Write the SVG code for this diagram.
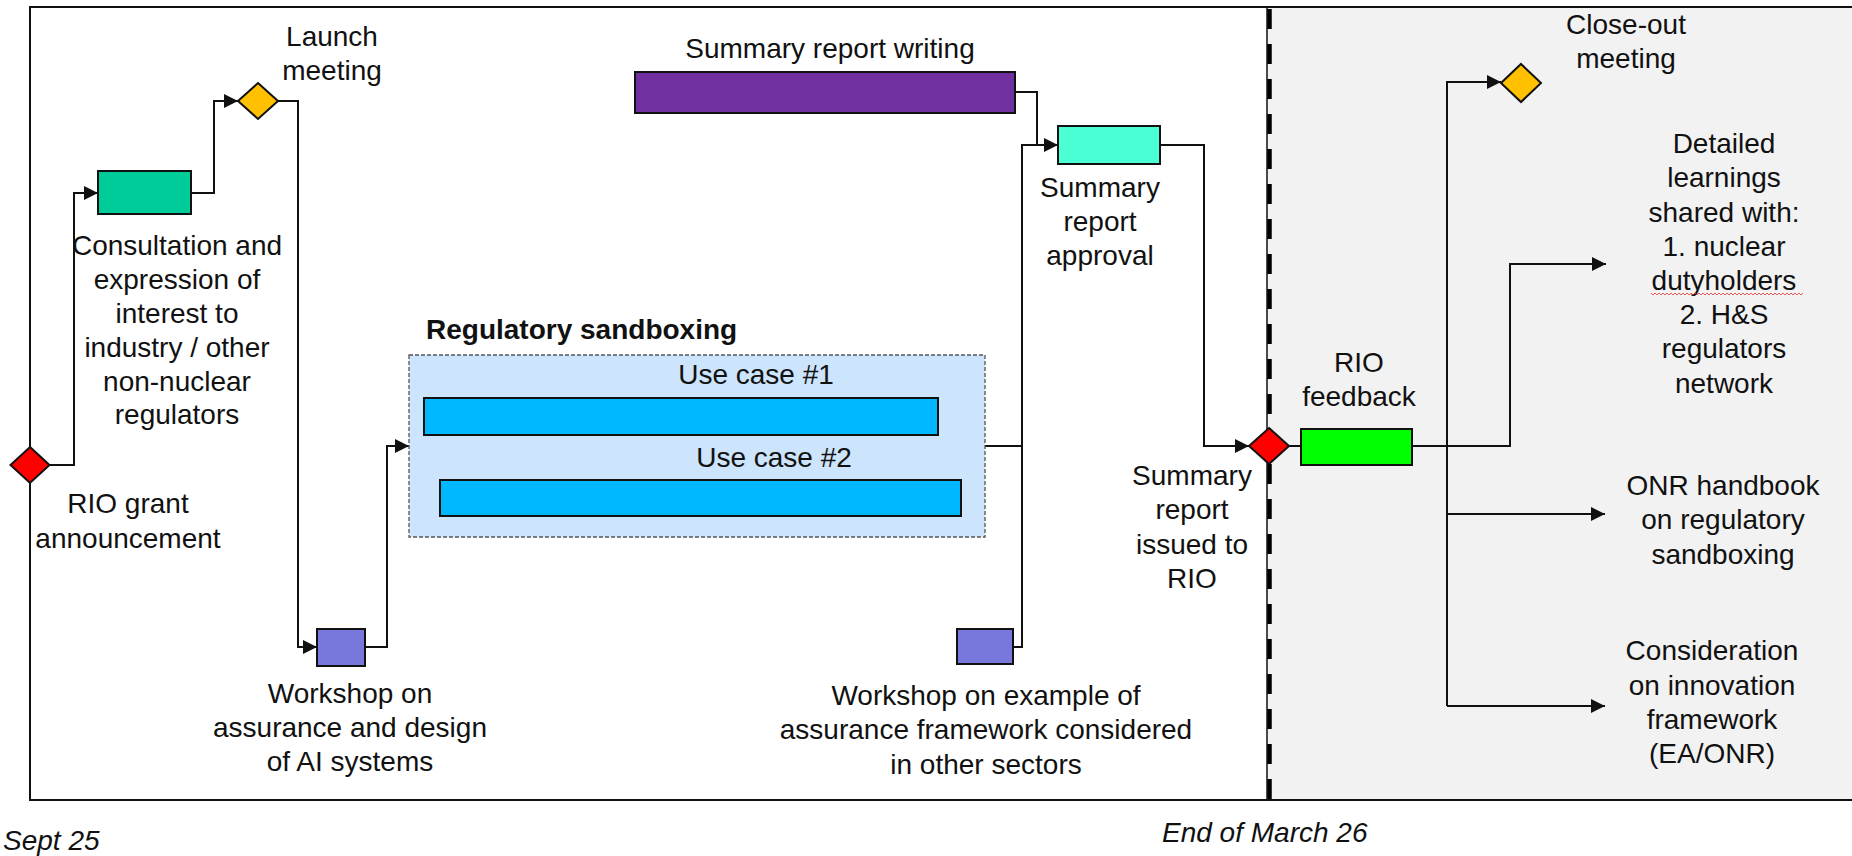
<svg xmlns="http://www.w3.org/2000/svg" width="1852" height="856" viewBox="0 0 1852 856">
<style>
  text { font-family: "Liberation Sans", Arial, sans-serif; font-size: 28px; fill: #111; }
  .c { text-anchor: middle; }
  .b { font-weight: bold; }
  .i { font-style: italic; }
  .box { stroke: #111; stroke-width: 2; }
  .con { fill: none; stroke: #111; stroke-width: 2; }
</style>
<defs>
  <marker id="arr" markerUnits="userSpaceOnUse" markerWidth="14" markerHeight="14" viewBox="0 0 12 12" refX="12" refY="6" orient="auto">
    <path d="M0,0 L12,6 L0,12 Z" fill="#111"/>
  </marker>
</defs>

<!-- background frame -->
<g id="frame">
  <rect x="30" y="7" width="1840" height="793" fill="#ffffff"/>
  <rect x="1267" y="7" width="600" height="793" fill="#f2f2f2"/>
  <line x1="1267" y1="7" x2="1267" y2="801" stroke="#111" stroke-width="1.5"/>
  <line x1="1269.5" y1="9" x2="1269.5" y2="803" stroke="#000" stroke-width="4.5" stroke-dasharray="20 15"/>
  <rect x="30" y="7" width="1840" height="793" fill="none" stroke="#111" stroke-width="2"/>
</g>

<g id="connectors">
  <polyline class="con" points="49,465 74,465 74,193 98,193" marker-end="url(#arr)"/>
  <polyline class="con" points="191,193 214,193 214,101 238,101" marker-end="url(#arr)"/>
  <polyline class="con" points="278,101 298,101 298,647 317,647" marker-end="url(#arr)"/>
  <polyline class="con" points="365,647 387,647 387,446 409,446" marker-end="url(#arr)"/>
  <polyline class="con" points="985,446 1022,446"/>
  <polyline class="con" points="1013,647 1022,647 1022,145 1058,145" marker-end="url(#arr)"/>
  <polyline class="con" points="1015,92 1037,92 1037,145"/>
  <polyline class="con" points="1160,145 1204,145 1204,446 1249,446" marker-end="url(#arr)"/>
  <polyline class="con" points="1289,446 1301,446"/>
  <polyline class="con" points="1412,446 1510,446 1510,264 1606,264" marker-end="url(#arr)"/>
  <polyline class="con" points="1447,706 1447,82 1501,82" marker-end="url(#arr)"/>
  <polyline class="con" points="1447,514 1605,514" marker-end="url(#arr)"/>
  <polyline class="con" points="1447,706 1605,706" marker-end="url(#arr)"/>
</g>

<g id="rio-grant">
  <polygon class="box" points="30,447 49.5,465 30,483 10.5,465" fill="#ff0000"/>
  <text class="c" x="128" y="513">RIO grant</text>
  <text class="c" x="128" y="548">announcement</text>
</g>

<g id="consultation">
  <rect class="box" x="98" y="171" width="93" height="43" fill="#00cc99"/>
  <text class="c" x="177"><tspan x="177" y="255">Consultation and</tspan><tspan x="177" y="289">expression of</tspan><tspan x="177" y="323">interest to</tspan><tspan x="177" y="357">industry / other</tspan><tspan x="177" y="391">non-nuclear</tspan><tspan x="177" y="424">regulators</tspan></text>
</g>

<g id="launch">
  <polygon class="box" points="258,83 278,101 258,119 238,101" fill="#ffc000"/>
  <text class="c" x="332"><tspan x="332" y="46">Launch</tspan><tspan x="332" y="80">meeting</tspan></text>
</g>

<g id="workshop1">
  <rect class="box" x="317" y="629" width="48" height="37" fill="#7878dc"/>
  <text class="c" x="350"><tspan x="350" y="703">Workshop on</tspan><tspan x="350" y="737">assurance and design</tspan><tspan x="350" y="771">of AI systems</tspan></text>
</g>

<g id="sandbox">
  <text class="b" x="426" y="339">Regulatory sandboxing</text>
  <rect x="409" y="355" width="576" height="182" fill="#cce4fc" stroke="#555" stroke-width="1.3" stroke-dasharray="4 2"/>
</g>

<g id="usecase1">
  <text class="c" x="756" y="384">Use case #1</text>
  <rect class="box" x="424" y="398" width="514" height="37" fill="#00b8ff"/>
</g>

<g id="usecase2">
  <text class="c" x="774" y="467">Use case #2</text>
  <rect class="box" x="440" y="480" width="521" height="36" fill="#00b8ff"/>
</g>

<g id="writing">
  <text class="c" x="830" y="58">Summary report writing</text>
  <rect class="box" x="635" y="72" width="380" height="41" fill="#7030a0"/>
</g>

<g id="approval">
  <rect class="box" x="1058" y="126" width="102" height="38" fill="#4bffd4"/>
  <text class="c" x="1100"><tspan x="1100" y="197">Summary</tspan><tspan x="1100" y="231">report</tspan><tspan x="1100" y="265">approval</tspan></text>
</g>

<g id="workshop2">
  <rect class="box" x="957" y="629" width="56" height="35" fill="#7878dc"/>
  <text class="c" x="986"><tspan x="986" y="705">Workshop on example of</tspan><tspan x="986" y="739">assurance framework considered</tspan><tspan x="986" y="774">in other sectors</tspan></text>
</g>

<g id="issued">
  <polygon class="box" points="1269,428 1289,446 1269,464 1249,446" fill="#ff0000"/>
  <text class="c" x="1192"><tspan x="1192" y="485">Summary</tspan><tspan x="1192" y="519">report</tspan><tspan x="1192" y="554">issued to</tspan><tspan x="1192" y="588">RIO</tspan></text>
</g>

<g id="rio-feedback">
  <rect class="box" x="1301" y="429" width="111" height="36" fill="#00ff00"/>
  <text class="c" x="1359"><tspan x="1359" y="372">RIO</tspan><tspan x="1359" y="406">feedback</tspan></text>
</g>

<g id="closeout">
  <polygon class="box" points="1521,64 1541,83 1521,102 1501,83" fill="#ffc000"/>
  <text class="c" x="1626"><tspan x="1626" y="34">Close-out</tspan><tspan x="1626" y="68">meeting</tspan></text>
</g>

<g id="learnings">
  <text class="c" x="1724"><tspan x="1724" y="153">Detailed</tspan><tspan x="1724" y="187">learnings</tspan><tspan x="1724" y="222">shared with:</tspan><tspan x="1724" y="256">1. nuclear</tspan><tspan x="1724" y="290">dutyholders</tspan><tspan x="1724" y="324">2. H&amp;S</tspan><tspan x="1724" y="358">regulators</tspan><tspan x="1724" y="393">network</tspan></text>
  <path d="M1651,293 l2,2 l2,-2 l2,2 l2,-2 l2,2 l2,-2 l2,2 l2,-2 l2,2 l2,-2 l2,2 l2,-2 l2,2 l2,-2 l2,2 l2,-2 l2,2 l2,-2 l2,2 l2,-2 l2,2 l2,-2 l2,2 l2,-2 l2,2 l2,-2 l2,2 l2,-2 l2,2 l2,-2 l2,2 l2,-2 l2,2 l2,-2 l2,2 l2,-2 l2,2 l2,-2 l2,2 l2,-2 l2,2 l2,-2 l2,2 l2,-2 l2,2 l2,-2 l2,2 l2,-2 l2,2 l2,-2 l2,2 l2,-2 l2,2 l2,-2 l2,2 l2,-2 l2,2 l2,-2 l2,2 l2,-2 l2,2 l2,-2 l2,2 l2,-2 l2,2 l2,-2 l2,2 l2,-2 l2,2 l2,-2 l2,2 l2,-2 l2,2 l2,-2 l2,2 l2,-2" fill="none" stroke="#e03030" stroke-width="0.8"/>
</g>

<g id="handbook">
  <text class="c" x="1723"><tspan x="1723" y="495">ONR handbook</tspan><tspan x="1723" y="529">on regulatory</tspan><tspan x="1723" y="564">sandboxing</tspan></text>
</g>

<g id="innovation">
  <text class="c" x="1712"><tspan x="1712" y="660">Consideration</tspan><tspan x="1712" y="695">on innovation</tspan><tspan x="1712" y="729">framework</tspan><tspan x="1712" y="763">(EA/ONR)</tspan></text>
</g>

<g id="dates">
  <text class="i" x="3" y="850">Sept 25</text>
  <text class="i" x="1162" y="842">End of March 26</text>
</g>
</svg>
